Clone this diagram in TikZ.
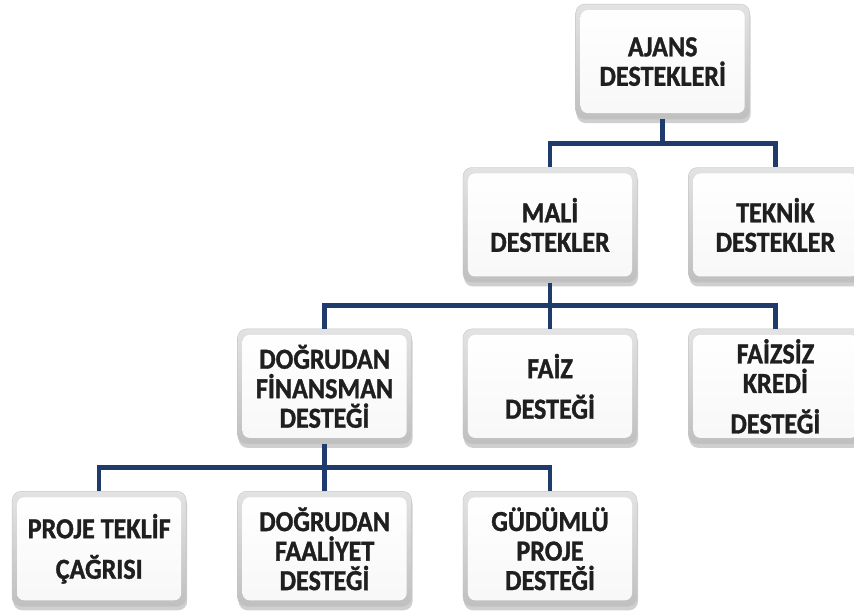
\documentclass[tikz,border=0pt]{standalone}
\usepackage{fontspec}
\setmainfont{Carlito}
\newfontfamily\boxfont{Carlito}[FakeStretch = 0.9, BoldFeatures = {FakeBold = 1.2}]
\usetikzlibrary{positioning,calc,shadows}

\definecolor{busblue}{HTML}{1F3B6B}

\begin{document}
\begin{tikzpicture}[node distance = 47pt and 51pt]

  \tikzstyle{box} = [rectangle, rounded corners = 9pt, draw = gray!45,
    minimum width = 174pt, minimum height = 115pt, align = center,
    font = \boxfont\fontsize{29}{29.5}\selectfont\bfseries, text = black!88,
    top color = gray!22, bottom color = gray!50,
    drop shadow = {shadow xshift = 1pt, shadow yshift = -4pt, fill = gray!75, opacity = .5},
    path picture = {\shade[top color = white, bottom color = gray!6, rounded corners = 7pt]
      ([shift = {(5pt,6pt)}]path picture bounding box.south west) rectangle
      ([shift = {(-5pt,-6pt)}]path picture bounding box.north east);}]
  \tikzstyle{bus} = [draw = busblue, line width = 4.5pt]

    \useasboundingbox (-550pt,-390pt) rectangle (304pt,225pt);

    % second row
    \node[box] (mali) {MAL\.I\\DESTEKLER};
    \node[box, right = of mali] (teknik) {TEKN\.IK\\DESTEKLER};
    \coordinate (top) at ($(mali.north)!0.5!(teknik.north)$);
    \node[box, above = 48pt of top] (ajans) {AJANS\\DESTEKLER\.I};

    % third row
    \node[box, below = 46pt of mali] (faiz) {FA\.IZ\\[11pt]DESTE\u{G}\.I};
    \node[box, left = of faiz] (dogrudan) {DO\u{G}RUDAN\\F\.INANSMAN\\DESTE\u{G}\.I};
    \node[box, right = of faiz] (faizsiz) {FA\.IZS\.IZ\\KRED\.I\\[11pt]DESTE\u{G}\.I};

    % fourth row
    \node[box, below = of dogrudan] (faaliyet) {DO\u{G}RUDAN\\FAAL\.IYET\\DESTE\u{G}\.I};
    \node[box, left = of faaliyet] (proje) {PROJE TEKL\.IF\\[11pt]\c{C}A\u{G}RISI};
    \node[box, right = of faaliyet] (gudumlu) {G\"UD\"UML\"U\\PROJE\\DESTE\u{G}\.I};

    % connectors
    \draw[bus] (ajans.south) |- ($(ajans.south)!0.5!(mali.north)$) -| (mali.north);
    \draw[bus] (ajans.south) |- ($(ajans.south)!0.5!(teknik.north)$) -| (teknik.north);
    \draw[bus] (mali.south) -- (faiz.north);
    \draw[bus] (mali.south) |- ($(mali.south)!0.5!(dogrudan.north)$) -| (dogrudan.north);
    \draw[bus] (mali.south) |- ($(mali.south)!0.5!(faizsiz.north)$) -| (faizsiz.north);
    \draw[bus] (dogrudan.south) -- (faaliyet.north);
    \draw[bus] (dogrudan.south) |- ($(dogrudan.south)!0.5!(proje.north)$) -| (proje.north);
    \draw[bus] (dogrudan.south) |- ($(dogrudan.south)!0.5!(gudumlu.north)$) -| (gudumlu.north);
\end{tikzpicture}
\end{document}
